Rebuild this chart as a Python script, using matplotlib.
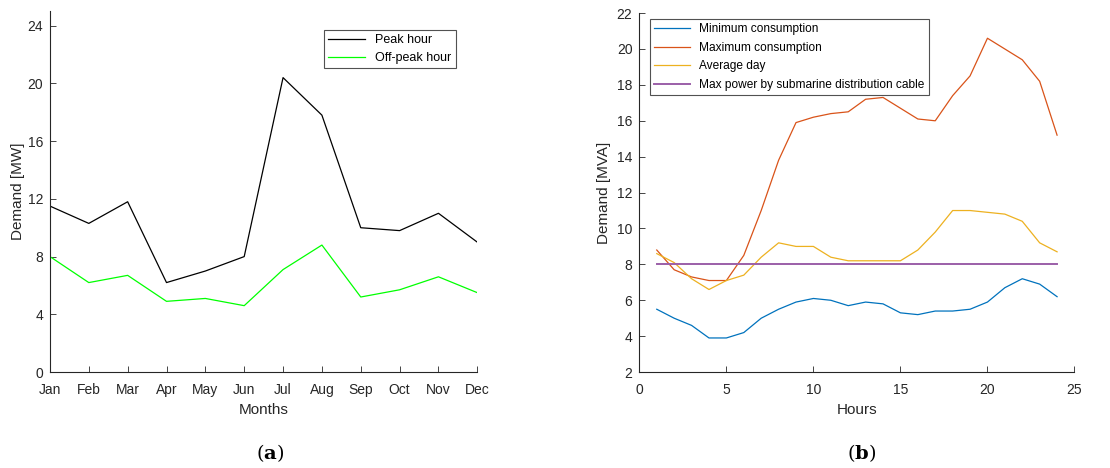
import matplotlib
matplotlib.use('Agg')
import matplotlib.pyplot as plt

# left panel: monthly demand
months = ['Jan', 'Feb', 'Mar', 'Apr', 'May', 'Jun', 'Jul', 'Aug', 'Sep', 'Oct', 'Nov', 'Dec']
peak = [11.5, 10.3, 11.8, 6.2, 7.0, 8.0, 20.4, 17.8, 10.0, 9.8, 11.0, 9.0]
offpeak = [8.0, 6.2, 6.7, 4.9, 5.1, 4.6, 7.1, 8.8, 5.2, 5.7, 6.6, 5.5]

# right panel: daily profile
hours = list(range(1, 25))
min_cons = [5.5, 5.0, 4.6, 3.9, 3.9, 4.2, 5.0, 5.5, 5.9, 6.1, 6.0, 5.7,
            5.9, 5.8, 5.3, 5.2, 5.4, 5.4, 5.5, 5.9, 6.7, 7.2, 6.9, 6.2]
max_cons = [8.8, 7.7, 7.3, 7.1, 7.1, 8.5, 11.0, 13.8, 15.9, 16.2, 16.4, 16.5,
            17.2, 17.3, 16.7, 16.1, 16.0, 17.4, 18.5, 20.6, 20.0, 19.4, 18.2, 15.2]
avg_day = [8.6, 8.1, 7.2, 6.6, 7.1, 7.4, 8.4, 9.2, 9.0, 9.0, 8.4, 8.2,
           8.2, 8.2, 8.2, 8.8, 9.8, 11.0, 11.0, 10.9, 10.8, 10.4, 9.2, 8.7]
cable = [8.0] * 24

plt.rcParams['font.family'] = ['Liberation Sans', 'DejaVu Sans']
plt.rcParams['mathtext.fontset'] = 'dejavuserif'

fig = plt.figure(figsize=(11.1, 4.68), dpi=100)
ax1 = fig.add_axes([0.045, 0.205, 0.385, 0.771])
ax2 = fig.add_axes([0.576, 0.205, 0.392, 0.767])

def style(ax):
    for s in ['top', 'right']:
        ax.spines[s].set_visible(False)
    for s in ['left', 'bottom']:
        ax.spines[s].set_color('#262626')
        ax.spines[s].set_linewidth(0.8)
    ax.tick_params(direction='in', length=4, width=0.6, colors='#262626',
                   labelsize=10)
    ax.tick_params(axis='x', pad=8)
    ax.tick_params(axis='y', pad=5)

x = list(range(len(months)))
ax1.plot(x, peak, color='black', lw=0.9, label='Peak hour')
ax1.plot(x, offpeak, color='#00ff00', lw=0.9, label='Off-peak hour')
ax1.set_xlim(0, 11)
ax1.set_ylim(0, 25)
ax1.set_xticks(x)
ax1.set_xticklabels(months)
ax1.set_yticks([0, 4, 8, 12, 16, 20, 24])
ax1.set_xlabel('Months', fontsize=11, color='#262626', labelpad=4)
ax1.set_ylabel('Demand [MW]', fontsize=11, color='#262626', labelpad=2)
style(ax1)
leg1 = ax1.legend(loc='upper right', bbox_to_anchor=(0.965, 0.965), fontsize=9,
                  fancybox=False, edgecolor='#262626', handlelength=3.0,
                  borderpad=0.35, labelspacing=0.45)
leg1.get_frame().set_linewidth(0.8)

ax2.plot(hours, min_cons, color='#0072BD', lw=0.9, label='Minimum consumption')
ax2.plot(hours, max_cons, color='#D95319', lw=0.9, label='Maximum consumption')
ax2.plot(hours, avg_day, color='#EDB120', lw=0.9, label='Average day')
ax2.plot(hours, cable, color='#9B5FA8', lw=1.4, label='Max power by submarine distribution cable')
ax2.set_xlim(0, 25)
ax2.set_ylim(2, 22)
ax2.set_xticks([0, 5, 10, 15, 20, 25])
ax2.set_yticks(range(2, 23, 2))
ax2.set_xlabel('Hours', fontsize=11, color='#262626', labelpad=4)
ax2.set_ylabel('Demand [MVA]', fontsize=11, color='#262626', labelpad=4)
style(ax2)
leg2 = ax2.legend(loc='upper left', bbox_to_anchor=(0.01, 1.0), fontsize=8.6,
                  fancybox=False, edgecolor='#262626', handlelength=3.0,
                  borderpad=0.35, labelspacing=0.55)
leg2.get_frame().set_linewidth(0.8)

fig.text(0.243, 0.018, r'($\mathbf{a}$)', ha='center', fontsize=14,
         family='DejaVu Serif')
fig.text(0.776, 0.018, r'($\mathbf{b}$)', ha='center', fontsize=14,
         family='DejaVu Serif')

fig.savefig('out.png', dpi=100)
